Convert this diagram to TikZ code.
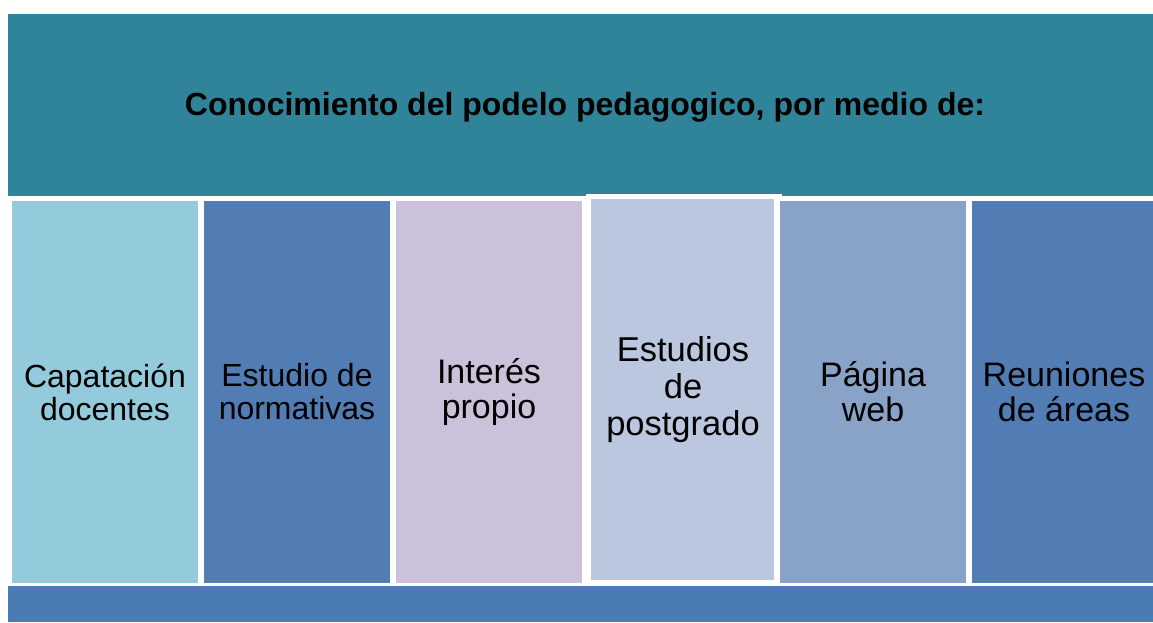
\documentclass[tikz,border=0pt]{standalone}
\usepackage{fontspec}
\setmainfont{Liberation Sans}
\definecolor{topc}{HTML}{30849A}
\definecolor{botc}{HTML}{4A7BB4}
\definecolor{ca}{HTML}{93CBDC}
\definecolor{cb}{HTML}{527CB4}
\definecolor{cc}{HTML}{CBC1DA}
\definecolor{cd}{HTML}{BAC7DF}
\definecolor{ce}{HTML}{89A2C8}
\begin{document}
\begin{tikzpicture}[x=1pt,y=-1pt,
  coltext/.style={align=center, font=\fontsize{32}{33}\selectfont, text=black},
  bigtext/.style={align=center, font=\fontsize{34}{35}\selectfont, text=black}]
\useasboundingbox[fill=white] (0,0) rectangle (1153,622);
\fill[topc] (8,14) rectangle (1153,196);
\node[font=\bfseries\fontsize{32}{36}\selectfont] (title) at (585,107) {Conocimiento del podelo pedagogico, por medio de:};
\fill[botc] (8,586) rectangle (1153,622);
\fill[ca] (12,201) rectangle (198,583);
\fill[cb] (204,201) rectangle (390,583);
\fill[cc] (396,201) rectangle (582,583);
\fill[white] (586,194) rectangle (782,585);
\fill[cd] (591,199) rectangle (774,580);
\fill[ce] (780,201) rectangle (966,583);
\fill[cb] (972,201) rectangle (1153,583);
\node[coltext] (c1) at (105,392) {Capatación\\docentes};
\node[coltext] (c2) at (297,392) {Estudio de\\normativas};
\node[bigtext] (c3) at (489,392) {Interés\\propio};
\node[coltext, font=\fontsize{34.5}{37}\selectfont] (c4) at (683,390) {Estudios\\de\\postgrado};
\node[bigtext] (c5) at (873,392) {Página\\web};
\node[bigtext] (c6) at (1064,392) {Reuniones\\de áreas};
\end{tikzpicture}
\end{document}
